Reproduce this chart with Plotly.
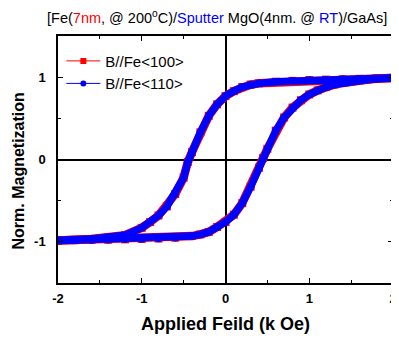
import plotly.graph_objects as go

# Ascending-field branch (H from -2 to 2)
h_up = [-2.0, -1.8, -1.6, -1.4, -1.2, -1.0, -0.8, -0.6, -0.4, -0.3, -0.2, -0.1, 0.0,
        0.1, 0.2, 0.3, 0.4, 0.45, 0.5, 0.6, 0.7, 0.8, 0.9, 1.0, 1.1, 1.2, 1.3, 1.4,
        1.5, 1.6, 1.7, 1.8, 2.0]
m_up = [-0.985, -0.98, -0.978, -0.975, -0.97, -0.965, -0.96, -0.95, -0.93, -0.91, -0.88,
        -0.82, -0.76, -0.67, -0.53, -0.33, -0.10, 0.02, 0.13, 0.35, 0.51, 0.63, 0.72,
        0.79, 0.84, 0.88, 0.91, 0.93, 0.95, 0.96, 0.97, 0.98, 0.99]
# Descending-field branch (H from 2 to -2)
h_down = [2.0, 1.8, 1.6, 1.4, 1.2, 1.0, 0.8, 0.6, 0.4, 0.3, 0.2, 0.1, 0.0, -0.1, -0.2,
          -0.3, -0.4, -0.45, -0.5, -0.6, -0.7, -0.8, -0.9, -1.0, -1.2, -1.4, -1.6, -1.8, -2.0]
m_down = [0.99, 0.985, 0.98, 0.975, 0.97, 0.965, 0.955, 0.945, 0.925, 0.91, 0.88, 0.83,
          0.77, 0.67, 0.53, 0.33, 0.09, -0.03, -0.22, -0.42, -0.57, -0.68, -0.76, -0.83,
          -0.92, -0.95, -0.965, -0.975, -0.985]

series_names = ["B//Fe<100>", "B//Fe<110>"]
series_colors = ["#ff0000", "#0000ff"]
series_symbols = ["square", "circle"]

x_ticks = [-2, -1, 0, 1, 2]
y_ticks = [-1, 0, 1]

h_all = h_up + [None] + h_down
m_all = m_up + [None] + m_down

fig = go.Figure()
for i, (name, col, sym) in enumerate(zip(series_names, series_colors, series_symbols)):
    w = 8.5 if i == 0 else 7.5
    ms = 8 if i == 0 else 7.5
    fig.add_trace(go.Scatter(x=h_all, y=m_all, mode="lines+markers", showlegend=False,
                             line=dict(color=col, width=w),
                             marker=dict(symbol=sym, size=ms, color=col),
                             connectgaps=False))
for name, col, sym in zip(series_names, series_colors, series_symbols):
    fig.add_trace(go.Scatter(x=[None], y=[None], mode="lines+markers", name=name,
                             line=dict(color=col, width=1),
                             marker=dict(symbol=sym, size=6, color=col)))

title = ("[Fe(<span style='color:#ff0000'>7nm</span>, @ 200<sup>o</sup>C)/"
         "<span style='color:#0000ff'>Sputter</span> MgO(4nm. @ "
         "<span style='color:#0000ff'>RT</span>)/GaAs]")

axis_common = dict(showline=True, linecolor="black", linewidth=1.5, mirror="ticks",
                   ticks="inside", ticklen=5, tickwidth=1, tickcolor="black",
                   showgrid=False, zeroline=True, zerolinecolor="black", zerolinewidth=1.5,
                   automargin=False,
                   tickfont=dict(family="Arial", size=13, color="black", weight="bold"),
                   minor=dict(ticks="inside", ticklen=3, tickcolor="black", dtick=0.5, showgrid=False))

# The page body has an 8px margin, so the figure is sized/positioned to compensate.
fig.update_layout(
    width=391, height=332,
    margin=dict(l=50, r=6, t=28, b=57),
    paper_bgcolor="white", plot_bgcolor="white",
    title=dict(text=title, x=0.535, xanchor="center", y=0.97, yanchor="middle",
               font=dict(family="Arial", size=14.5, color="black")),
    xaxis=dict(range=[-2, 2], tickvals=x_ticks, ticktext=[str(v) for v in x_ticks],
               ticklabelstandoff=3,
               title=dict(text="Applied Feild (k Oe)", standoff=12,
                          font=dict(family="Arial", size=18, color="black", weight="bold")),
               **axis_common),
    yaxis=dict(range=[-1.5, 1.5], tickvals=y_ticks, ticktext=[str(v) for v in y_ticks],
               ticklabelstandoff=8, **axis_common),
    legend=dict(x=0.01, y=0.965, xanchor="left", yanchor="top", bgcolor="rgba(0,0,0,0)",
                font=dict(family="Arial", size=15, color="black"),
                itemwidth=34, tracegroupgap=0),
    annotations=[dict(text="Norm. Magnetization", textangle=-90, showarrow=False,
                      xref="paper", yref="paper", x=0, y=0.5, xanchor="center", yanchor="middle",
                      xshift=-40, yshift=-12,
                      font=dict(family="Arial", size=16, color="black", weight="bold"))],
)

fig.write_html("out.html")
